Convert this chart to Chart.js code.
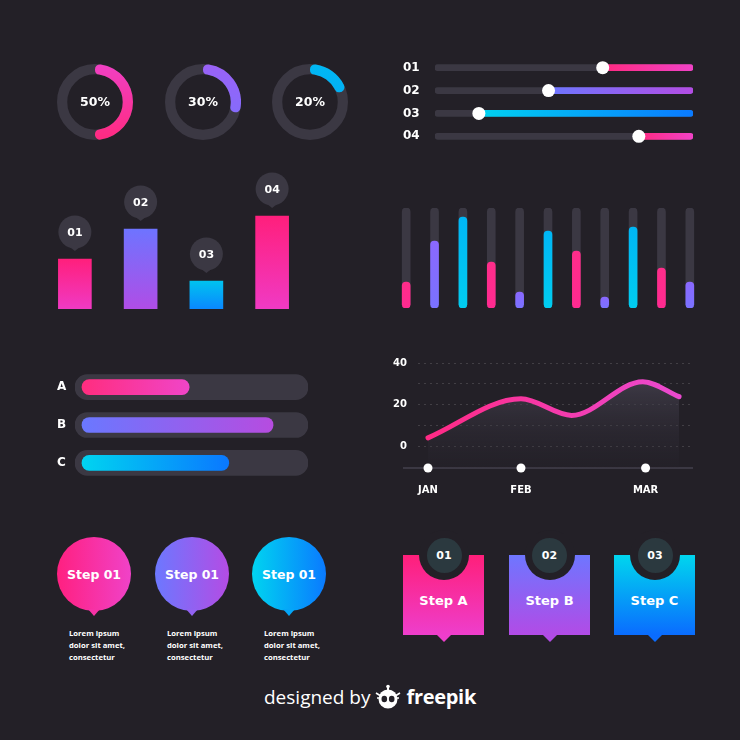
<!DOCTYPE html>
<html><head><meta charset="utf-8">
<script src="https://cdn.jsdelivr.net/npm/chart.js@4.4.1/dist/chart.umd.min.js"></script>
<style>
html,body{margin:0;padding:0;background:#232027;}
#stage{position:relative;width:740px;height:740px;background:#232027;overflow:hidden;font-family:'DejaVu Sans',sans-serif;color:#fff;}
#stage canvas{position:absolute;}
.stepc{position:absolute;width:74px;height:74px;border-radius:50%;display:flex;align-items:center;justify-content:center;font-weight:bold;font-size:12.5px;}
.stepc::after{content:'';position:absolute;left:50%;bottom:-5px;margin-left:-6px;border-left:6px solid transparent;border-right:6px solid transparent;border-top:7px solid var(--c);}
.lorem{position:absolute;font-family:'Open Sans',sans-serif;font-weight:700;font-size:7.7px;line-height:12px;color:#fff;}
.box{position:absolute;width:81px;height:80px;}
.box::after{content:'';position:absolute;left:50%;bottom:-7px;margin-left:-7px;border-left:7px solid transparent;border-right:7px solid transparent;border-top:7px solid var(--c);}
.box span{position:absolute;left:0;right:0;top:38px;text-align:center;font-weight:bold;font-size:13px;}
.notch{position:absolute;width:50px;height:50px;border-radius:50%;background:#232027;}
.num{position:absolute;width:35px;height:35px;border-radius:50%;background:#2b393f;display:flex;align-items:center;justify-content:center;font-weight:bold;font-size:11px;}
#footer{position:absolute;left:0;right:0;top:683px;display:flex;justify-content:center;align-items:center;gap:4px;}
#footer .d{font-family:'Open Sans',sans-serif;font-size:19px;font-weight:400;color:#fff;}
#footer .f{font-family:'Open Sans',sans-serif;font-size:20px;font-weight:700;color:#fff;letter-spacing:-0.3px;}
</style>
</head><body>
<div id="stage">
  <div class="stepc" style="left:57px;top:537px;background:linear-gradient(90deg,#ff2080,#f042c8);--c:#f732a6">Step 01</div>
  <div class="stepc" style="left:155px;top:537px;background:linear-gradient(90deg,#6c78ff,#b44ce4);--c:#9262f2">Step 01</div>
  <div class="stepc" style="left:252px;top:537px;background:linear-gradient(90deg,#00d4f0,#0a7aff);--c:#05a6f8">Step 01</div>
  <div class="lorem" style="left:69px;top:627px">Lorem ipsum<br>dolor sit amet,<br>consectetur</div>
  <div class="lorem" style="left:167px;top:627px">Lorem ipsum<br>dolor sit amet,<br>consectetur</div>
  <div class="lorem" style="left:264px;top:627px">Lorem ipsum<br>dolor sit amet,<br>consectetur</div>

  <div class="box" style="left:403px;top:555px;background:linear-gradient(180deg,#ff1f7a,#ee3ecc);--c:#ee3ecc"><span>Step A</span></div>
  <div class="notch" style="left:419px;top:530px"></div>
  <div class="num" style="left:426.5px;top:537.5px">01</div>
  <div class="box" style="left:509px;top:555px;background:linear-gradient(180deg,#6e76ff,#b24be6);--c:#b24be6"><span>Step B</span></div>
  <div class="notch" style="left:524.5px;top:530px"></div>
  <div class="num" style="left:532px;top:537.5px">02</div>
  <div class="box" style="left:614px;top:555px;background:linear-gradient(180deg,#00d6ee,#0a6cff);--c:#0a6cff"><span>Step C</span></div>
  <div class="notch" style="left:630px;top:530px"></div>
  <div class="num" style="left:637.5px;top:537.5px">03</div>

  <div id="footer"><span class="d">designed by</span>
    <svg width="28" height="26" viewBox="0 0 28 26"><circle cx="14" cy="15" r="9.5" fill="#fff"/><ellipse cx="10.3" cy="15" rx="2.8" ry="3.2" fill="#232027"/><ellipse cx="17.7" cy="15" rx="2.8" ry="3.2" fill="#232027"/><rect x="13" y="2.5" width="2" height="4" fill="#fff"/><circle cx="14" cy="2.5" r="1.8" fill="#fff"/><path d="M2 9 l4 2.5 M26 9 l-4 2.5 M3 14 l2 0 M25 14 l-2 0" stroke="#fff" stroke-width="1.6"/></svg>
    <span class="f">freepik</span></div>
</div>
<script>
// ---------- data ----------
const donutLabels = ['50%', '30%', '20%'];
const donutValues = [50, 30, 20];
const sliderLabels = ['01', '02', '03', '04'];
const sliderValues = [65, 44, 17, 79];
const barLabels = ['01', '02', '03', '04'];
const barValues = [50, 80, 28, 93];
const thinValues = [26, 67, 91, 46, 16, 77, 57, 11, 81, 40, 26];
const abcLabels = ['A', 'B', 'C'];
const abcValues = [49, 85, 66];
const lineX = [0, 1, 1.545, 2.31, 2.70];
const lineY = [4, 22.8, 14.8, 31, 23.8];
const monthLabels = ['JAN', 'FEB', 'MAR'];
const monthPos = [0, 1, 2.34];
const yTickLabels = [0, 20, 40];
const yGridValues = [0, 10, 20, 30, 40];

// ---------- palette ----------
const TRACK = '#3b3843';
const PINK = ['#ff2a80', '#f042c6'];
const PURPLE = ['#6d76ff', '#b34de4'];
const CYAN = ['#00d2f0', '#0a7aff'];

Chart.defaults.font.family = "'DejaVu Sans', sans-serif";
Chart.defaults.color = '#fff';
Chart.defaults.animation = false;
Chart.defaults.plugins.legend.display = false;
Chart.defaults.plugins.tooltip.enabled = false;

const stage = document.getElementById('stage');
function mk(left, top, w, h) {
  const c = document.createElement('canvas');
  c.width = w; c.height = h;
  c.style.left = left + 'px'; c.style.top = top + 'px';
  c.style.width = w + 'px'; c.style.height = h + 'px';
  stage.appendChild(c);
  return c;
}
function lin(ctx, x0, y0, x1, y1, c) {
  const g = ctx.createLinearGradient(x0, y0, x1, y1);
  g.addColorStop(0, c[0]); g.addColorStop(1, c[1]);
  return g;
}

// ---------- donuts ----------
const donutColors = [['#f040c4', '#ff2a80'], ['#9a62f6', '#7a70ff'], ['#00b8f4', '#05a4f5']];
const donutCenters = [[95, 102], [203, 102], [310, 102]];
const ringTrack = {
  id: 'ringTrack',
  beforeDatasetsDraw(chart) {
    const a = chart.getDatasetMeta(0).data[0];
    const ctx = chart.ctx;
    ctx.save();
    ctx.beginPath();
    ctx.arc(a.x, a.y, (a.outerRadius + a.innerRadius) / 2, 0, Math.PI * 2);
    ctx.lineWidth = a.outerRadius - a.innerRadius;
    ctx.strokeStyle = TRACK;
    ctx.stroke();
    ctx.restore();
  },
  afterDraw(chart) {
    const a = chart.getDatasetMeta(0).data[0];
    const ctx = chart.ctx;
    ctx.save();
    ctx.fillStyle = '#fff';
    ctx.font = "bold 12.5px 'DejaVu Sans'";
    ctx.textAlign = 'center'; ctx.textBaseline = 'middle';
    ctx.fillText(chart.options.plugins.centerText, a.x, a.y + 1);
    ctx.restore();
  }
};
donutValues.forEach((v, i) => {
  const [cx, cy] = donutCenters[i];
  const c = mk(cx - 38, cy - 38, 76, 76);
  new Chart(c, {
    type: 'doughnut',
    data: { labels: ['v', 'rest'], datasets: [{
      data: [v, 100 - v],
      backgroundColor: (ctx) => ctx.dataIndex === 0 ? lin(ctx.chart.ctx, 0, 0, 0, 76, donutColors[i]) : 'rgba(0,0,0,0)',
      borderWidth: 0,
      borderRadius: (ctx) => ctx.dataIndex === 0 ? 5 : 0
    }]},
    options: { responsive: false, cutout: '73%', layout: { padding: 0 }, plugins: { centerText: donutLabels[i] } },
    plugins: [ringTrack]
  });
});

// ---------- sliders ----------
const sliderColors = [PINK, PURPLE, CYAN, PINK];
new Chart(mk(403, 49, 297, 106), {
  type: 'bar',
  data: { labels: sliderLabels, datasets: [
    { data: sliderValues.map(v => [v, 100]), grouped: false, order: 1, barThickness: 6, borderRadius: 3, borderSkipped: false,
      backgroundColor: (ctx) => {
        const ch = ctx.chart; if (!ch.chartArea) return sliderColors[ctx.dataIndex][0];
        const xs = ch.scales.x;
        return lin(ch.ctx, xs.getPixelForValue(sliderValues[ctx.dataIndex]), 0, xs.getPixelForValue(100), 0, sliderColors[ctx.dataIndex]);
      } },
    { data: sliderLabels.map(() => [0, 100]), grouped: false, order: 2, barThickness: 6, borderRadius: 3, borderSkipped: false, backgroundColor: TRACK },
    { type: 'line', showLine: false, order: 0, clip: false, data: sliderValues.map((v, i) => ({ x: v, y: sliderLabels[i] })),
      pointRadius: 6.5, pointBackgroundColor: '#fff', pointBorderWidth: 0 }
  ]},
  options: { responsive: false, indexAxis: 'y', layout: { padding: { right: 7 } },
    scales: {
      x: { display: false, min: 0, max: 100 },
      y: { grid: { display: false }, border: { display: false },
        ticks: { color: '#fff', font: { size: 12, weight: 'bold' }, crossAlign: 'far', padding: 0 },
        afterFit: (s) => { s.width = 32; } }
    } }
});

// ---------- numbered bars ----------
const barColors = [['#ff1f7c', '#f03ac4'], ['#6e74ff', '#b04de6'], ['#00c3f0', '#0a88ff'], ['#ff1f7c', '#f03ac4']];
const bubbles = {
  id: 'bubbles',
  afterDatasetsDraw(chart) {
    const ctx = chart.ctx;
    chart.getDatasetMeta(0).data.forEach((b, i) => {
      const cx = b.x, cy = b.y - 27;
      ctx.save();
      ctx.fillStyle = TRACK;
      ctx.beginPath(); ctx.arc(cx, cy, 16.5, 0, Math.PI * 2); ctx.fill();
      ctx.beginPath(); ctx.moveTo(cx - 5, cy + 15); ctx.lineTo(cx + 5, cy + 15); ctx.lineTo(cx, cy + 19); ctx.closePath(); ctx.fill();
      ctx.fillStyle = '#fff'; ctx.font = "bold 11px 'DejaVu Sans'";
      ctx.textAlign = 'center'; ctx.textBaseline = 'middle';
      ctx.fillText(barLabels[i], cx, cy + 1);
      ctx.restore();
    });
  }
};
new Chart(mk(42, 165, 263, 146), {
  type: 'bar',
  data: { labels: barLabels, datasets: [{ data: barValues, barThickness: 33, borderWidth: 0,
    backgroundColor: (ctx) => {
      const ch = ctx.chart; if (!ch.chartArea) return barColors[ctx.dataIndex][0];
      const ys = ch.scales.y;
      return lin(ch.ctx, 0, ys.getPixelForValue(barValues[ctx.dataIndex]), 0, ys.getPixelForValue(0), barColors[ctx.dataIndex]);
    } }] },
  options: { responsive: false, layout: { padding: { top: 44, bottom: 2 } },
    scales: { x: { display: false }, y: { display: false, min: 0, max: 100 } } },
  plugins: [bubbles]
});

// ---------- thin level bars ----------
const thinColors = [['#ff2d8a', '#ff2a90'], ['#8a68ff', '#7a72ff'], ['#00b6f5', '#00cdf0']];
new Chart(mk(392, 206, 312, 104), {
  type: 'bar',
  data: { labels: thinValues.map((_, i) => 'b' + (i + 1)), datasets: [
    { data: thinValues, grouped: false, order: 1, barThickness: 8, borderRadius: 4, borderSkipped: false,
      backgroundColor: (ctx) => {
        const ch = ctx.chart; const col = thinColors[ctx.dataIndex % 3];
        if (!ch.chartArea) return col[0];
        const ys = ch.scales.y;
        return lin(ch.ctx, 0, ys.getPixelForValue(thinValues[ctx.dataIndex]), 0, ys.getPixelForValue(0), col);
      } },
    { data: thinValues.map(() => 100), grouped: false, order: 2, barThickness: 8, borderRadius: 4, borderSkipped: false, backgroundColor: TRACK }
  ]},
  options: { responsive: false, layout: { padding: { top: 2, bottom: 2 } },
    scales: { x: { display: false }, y: { display: false, min: 0, max: 100 } } }
});

// ---------- A/B/C progress ----------
const abcColors = [['#ff2d7f', '#f045c8'], ['#6a78ff', '#b64ce0'], ['#00d4f0', '#0a78ff']];
new Chart(mk(57, 361, 251, 128), {
  type: 'bar',
  data: { labels: abcLabels, datasets: [
    { data: abcValues.map(v => [3, v]), grouped: false, order: 1, barThickness: 15, borderRadius: 7.5, borderSkipped: false,
      backgroundColor: (ctx) => {
        const ch = ctx.chart; if (!ch.chartArea) return abcColors[ctx.dataIndex][0];
        const xs = ch.scales.x;
        return lin(ch.ctx, xs.getPixelForValue(3), 0, xs.getPixelForValue(abcValues[ctx.dataIndex]), 0, abcColors[ctx.dataIndex]);
      } },
    { data: abcLabels.map(() => [0, 100]), grouped: false, order: 2, barThickness: 25, borderRadius: 12.5, borderSkipped: false, backgroundColor: TRACK }
  ]},
  options: { responsive: false, indexAxis: 'y',
    scales: {
      x: { display: false, min: 0, max: 100 },
      y: { grid: { display: false }, border: { display: false },
        ticks: { color: '#fff', font: { size: 12, weight: 'bold' }, crossAlign: 'far', padding: 0 },
        afterFit: (s) => { s.width = 18; } }
    } }
});

// ---------- line chart ----------
const axisLine = {
  id: 'axisLine',
  beforeDatasetsDraw(chart) {
    const ctx = chart.ctx, a = chart.chartArea;
    ctx.save();
    ctx.strokeStyle = TRACK; ctx.lineWidth = 2;
    ctx.beginPath(); ctx.moveTo(a.left - 15, a.bottom); ctx.lineTo(a.right, a.bottom); ctx.stroke();
    ctx.restore();
  }
};
new Chart(mk(380, 346, 320, 154), {
  type: 'line',
  data: { datasets: [
    { data: monthPos.map(p => ({ x: p, y: -10.5 })), showLine: false, order: 0, clip: false,
      pointRadius: 4.5, pointBackgroundColor: '#fff', pointBorderWidth: 0 },
    { data: lineX.map((x, i) => ({ x, y: lineY[i] })), order: 1, borderWidth: 5, cubicInterpolationMode: 'monotone',
      borderCapStyle: 'round', borderJoinStyle: 'round', pointRadius: 0, fill: 'start',
      borderColor: (ctx) => { const ch = ctx.chart; if (!ch.chartArea) return PINK[0];
        const xs = ch.scales.x; return lin(ch.ctx, xs.getPixelForValue(0), 0, xs.getPixelForValue(2.7), 0, ['#ff2a85', '#ea4ad0']); },
      backgroundColor: (ctx) => { const ch = ctx.chart; if (!ch.chartArea) return 'rgba(70,66,80,0.5)';
        const a = ch.chartArea; return lin(ch.ctx, 0, a.top + 15, 0, a.bottom, ['rgba(72,68,82,0.75)', 'rgba(45,42,52,0.1)']); } }
  ]},
  options: { responsive: false, layout: { padding: { top: 8, right: 7 } },
    scales: {
      x: { type: 'linear', min: -0.1075, max: 2.85,
        afterBuildTicks: (s) => { s.ticks = monthPos.map(v => ({ value: v })); },
        ticks: { callback: (v, i) => monthLabels[i], color: '#fff', font: { size: 10, weight: 'bold' }, padding: 16, maxRotation: 0, autoSkip: false },
        grid: { display: false, drawTicks: false }, border: { display: false },
        afterFit: (s) => { s.height = 32; } },
      y: { min: -10.5, max: 40,
        afterBuildTicks: (s) => { s.ticks = yGridValues.map(v => ({ value: v })); },
        ticks: { callback: (v) => yTickLabels.includes(v) ? String(v) : '', color: '#fff', font: { size: 10, weight: 'bold' }, padding: 11 },
        grid: { color: 'rgba(255,255,255,0.14)', drawTicks: false, lineWidth: 1 }, border: { display: false, dash: [2, 4] },
        afterFit: (s) => { s.width = 38; } }
    } },
  plugins: [axisLine]
});
</script>
</body></html>
